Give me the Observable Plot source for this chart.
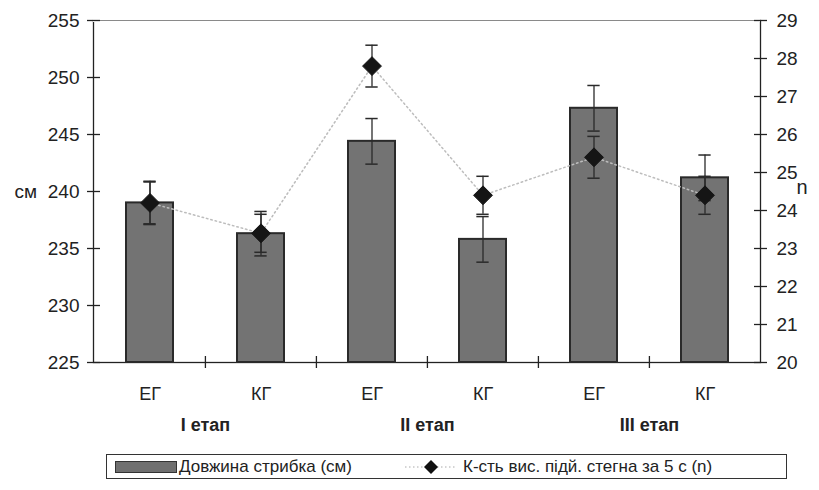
<!DOCTYPE html>
<html><head><meta charset="utf-8">
<script src="https://cdn.jsdelivr.net/npm/d3@7"></script>
<script src="https://cdn.jsdelivr.net/npm/@observablehq/plot@0.6"></script>
<style>
body{margin:0;background:#fff;font-family:"Liberation Sans",Arial,sans-serif;}
#wrap{position:relative;width:819px;height:490px;}
#legend{position:absolute;left:106px;top:454px;width:681px;height:25px;border:1px solid #333;box-sizing:border-box;font-size:17px;color:#222;}
#legend .sw{position:absolute;left:8px;top:6px;width:62px;height:12px;background:#6f6f6f;border:1px solid #333;box-sizing:border-box;}
#legend .t1{position:absolute;left:72px;top:2px;}
#legend svg{position:absolute;left:296px;top:2px;}
#legend .t2{position:absolute;left:356px;top:2px;}
</style></head><body><div id="wrap"><div id="chart"></div><div id="legend"><div class="sw"></div><span class="t1">Довжина стрибка (см)</span><svg width="56" height="20"><line x1="2" y1="10" x2="54" y2="10" stroke="#aaa" stroke-dasharray="1.5,2.5"/><path d="M28,3L35,10L28,17L21,10Z" fill="#111"/></svg><span class="t2">К-сть вис. підй. стегна за 5 с (n)</span></div></div>
<script>
const stages = ["I етап", "II етап", "III етап"];
const groups = ["ЕГ", "КГ"];
const jumpCm  = [239.0, 236.3, 244.4, 235.8, 247.3, 241.2];
const jumpErr = [1.9, 1.95, 2.0, 2.0, 2.0, 2.0];
const liftN   = [24.2, 23.4, 27.8, 24.4, 25.4, 24.4];
const liftErr = [0.55, 0.5, 0.55, 0.5, 0.55, 0.5];
const cmTicks = [225, 230, 235, 240, 245, 250, 255];
const nTicks  = [20, 21, 22, 23, 24, 25, 26, 27, 28, 29];

const cmDomain = [225, 255];
const nDomain = [20, 29];
const toCm = n => cmDomain[0] + (n - nDomain[0]) * (cmDomain[1] - cmDomain[0]) / (nDomain[1] - nDomain[0]);
const fromCm = c => nDomain[0] + (c - cmDomain[0]) * (nDomain[1] - nDomain[0]) / (cmDomain[1] - cmDomain[0]);

const data = stages.flatMap((s, i) => groups.map((g, j) => ({
  key: s + "|" + g, stage: s, group: g,
  cm: jumpCm[i * 2 + j], cmErr: jumpErr[i * 2 + j],
  n: liftN[i * 2 + j], nErr: liftErr[i * 2 + j]
})));
const keys = data.map(d => d.key);

const W = 819, H = 445, ML = 93, MR = 59, MT = 20, MB = 83;
const step = (W - ML - MR) / keys.length;
const capInset = (step * (1 - 0.58) - 12) / 2;

const chart = Plot.plot({
  width: W, height: H,
  marginLeft: ML, marginRight: MR, marginTop: MT, marginBottom: MB,
  style: {fontFamily: "Liberation Sans, Arial, sans-serif", fontSize: "18px", color: "#222", background: "#fff"},
  x: {domain: keys, paddingInner: 0.58, paddingOuter: 0.29, axis: null},
  y: {domain: cmDomain, axis: null},
  marks: [
    Plot.frame({stroke: "#222", strokeWidth: 1.3}),
    Plot.ruleY([cmDomain[1]], {stroke: "#fff", strokeWidth: 3}),
    Plot.ruleY([cmDomain[1]], {stroke: "#8a8a8a", strokeWidth: 1}),
    Plot.barY(data, {x: "key", y1: () => cmDomain[0], y2: "cm", fill: "#737373", stroke: "#2a2a2a", strokeWidth: 2}),
    Plot.ruleX(data, {x: "key", y1: d => d.cm - d.cmErr, y2: d => d.cm + d.cmErr, stroke: "#2a2a2a", strokeWidth: 1.3}),
    Plot.tickY(data, {x: "key", y: d => d.cm + d.cmErr, insetLeft: capInset, insetRight: capInset, stroke: "#2a2a2a", strokeWidth: 1.5}),
    Plot.tickY(data, {x: "key", y: d => d.cm - d.cmErr, insetLeft: capInset, insetRight: capInset, stroke: "#2a2a2a", strokeWidth: 1.5}),
    Plot.line(data, {x: "key", y: d => toCm(d.n), stroke: "#bdbdbd", strokeWidth: 1.5, strokeDasharray: "1.5,3"}),
    Plot.ruleX(data, {x: "key", y1: d => toCm(d.n - d.nErr), y2: d => toCm(d.n + d.nErr), stroke: "#2a2a2a", strokeWidth: 1.3}),
    Plot.tickY(data, {x: "key", y: d => toCm(d.n + d.nErr), insetLeft: capInset, insetRight: capInset, stroke: "#2a2a2a", strokeWidth: 1.5}),
    Plot.tickY(data, {x: "key", y: d => toCm(d.n - d.nErr), insetLeft: capInset, insetRight: capInset, stroke: "#2a2a2a", strokeWidth: 1.5}),
    Plot.dot(data, {x: "key", y: d => toCm(d.n), symbol: "diamond2", r: 8.5, fill: "#151515", stroke: "#151515", strokeWidth: 1}),
    Plot.ruleX(keys.slice(1), {x: d => d, y1: cmDomain[0], y2: cmDomain[0], insetTop: -6, insetBottom: -6, dx: -step / 2, stroke: "#222", strokeWidth: 1.3}),
    Plot.axisY({anchor: "left", ticks: cmTicks, tickSize: 13, insetLeft: 7, tickPadding: 8, label: null, stroke: "#222", strokeWidth: 1.3, fontSize: 19}),
    Plot.axisY({anchor: "right", ticks: nTicks.map(toCm), tickFormat: d => String(Math.round(fromCm(d))), tickSize: 13, insetRight: 7, tickPadding: 10, label: null, stroke: "#222", strokeWidth: 1.3, fontSize: 19}),
    Plot.axisX({tickSize: 0, tickPadding: 25, tickFormat: d => d.split("|")[1], label: null, fontSize: 18}),
    Plot.text(data.filter(d => d.group === groups[1]), {x: "key", text: "stage", frameAnchor: "bottom", dy: 68, dx: -step / 2, fontWeight: "bold", fontSize: 18}),
    Plot.text(["см"], {frameAnchor: "left", dx: -79, fontSize: 19}),
    Plot.text(["n"], {frameAnchor: "right", dx: 47, dy: -4, fontSize: 20})
  ]
});
document.getElementById("chart").appendChild(chart);
</script></body></html>
